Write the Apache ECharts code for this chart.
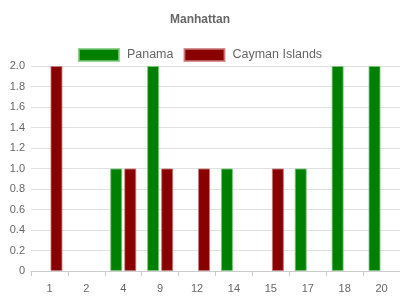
<!DOCTYPE html>
<html>
<head>
<meta charset="utf-8">
<script src="https://cdn.jsdelivr.net/npm/echarts@6/dist/echarts.min.js"></script>
<style>html,body{margin:0;padding:0;background:#fff}#c{width:400px;height:300px}</style>
</head>
<body>
<div id="c"></div>
<script>
const categories = ['1','2','4','9','12','14','15','17','18','20'];
const panama = [0,0,1,2,0,1,0,1,2,2];
const cayman = [2,0,1,1,1,0,1,0,0,0];
const chart = echarts.init(document.getElementById('c'));
const font = 'Liberation Sans, Arial, sans-serif';
const prep = arr => arr.map(v => v === 0 ? {value:0, itemStyle:{borderWidth:0}} : v);
chart.setOption({
  animation:false,
  textStyle:{fontFamily:font},
  title:{text:'Manhattan',left:'center',top:9,textStyle:{fontSize:12,fontWeight:'bold',color:'#666',fontFamily:font}},
  legend:{top:43,left:'center',itemWidth:40,itemHeight:12,itemGap:10,icon:'rect',
    textStyle:{fontSize:12.5,color:'#666',fontFamily:font,padding:[0,0,0,3]},
    data:['Panama','Cayman Islands']},
  grid:{left:31,right:0,top:66,bottom:29,containLabel:false},
  xAxis:{type:'category',data:categories,boundaryGap:true,
    axisLine:{lineStyle:{color:'#ccc'}},
    axisTick:{show:true,alignWithLabel:false,length:5,lineStyle:{color:'#ccc'}},
    axisLabel:{color:'#666',fontSize:11,margin:12,fontFamily:font},
    splitLine:{show:false}},
  yAxis:{type:'value',min:0,max:2,interval:0.2,
    axisLine:{show:false},axisTick:{show:false},
    axisLabel:{color:'#666',fontSize:11,margin:6,fontFamily:font,formatter:v=>v===0?'0':v.toFixed(1)},
    splitLine:{lineStyle:{color:'#e0e0e0'}}},
  series:[
    {name:'Panama',type:'bar',data:prep(panama),barWidth:12,barGap:'17%',
      itemStyle:{color:'#008000',borderColor:'rgba(120,200,120,0.8)',borderWidth:1}},
    {name:'Cayman Islands',type:'bar',data:prep(cayman),barWidth:12,
      itemStyle:{color:'#880000',borderColor:'rgba(200,120,120,0.8)',borderWidth:1}}
  ]
});
</script>
</body>
</html>
